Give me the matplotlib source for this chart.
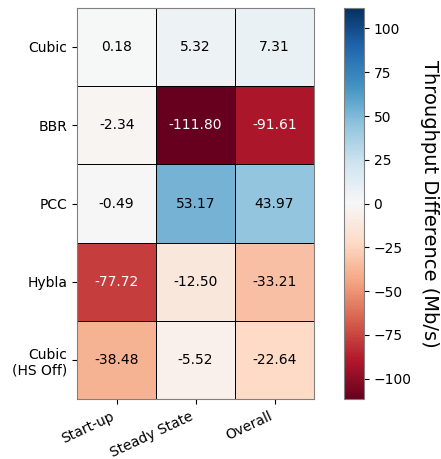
import numpy as np
import matplotlib
matplotlib.use("Agg")
import matplotlib.pyplot as plt

# rows: congestion control, columns: phase
rows = ["Cubic", "BBR", "PCC", "Hybla", "Cubic\n(HS Off)"]
cols = ["Start-up", "Steady State", "Overall"]
startup = [0.18, -2.34, -0.49, -77.72, -38.48]
steady = [5.32, -111.80, 53.17, -12.50, -5.52]
overall = [7.31, -91.61, 43.97, -33.21, -22.64]

data = np.array([startup, steady, overall]).T
lim = np.abs(data).max()

fig = plt.figure(figsize=(4.41, 4.59), dpi=100)
ax = fig.add_axes([0.175, 0.13, 0.537, 0.853])
cax = fig.add_axes([0.780, 0.13, 0.045, 0.853])

mesh = ax.pcolormesh(data, cmap="RdBu", vmin=-lim, vmax=lim,
                     edgecolors="black", linewidth=0.6)
ax.set_xlim(0, len(cols))
ax.set_ylim(len(rows), 0)
ax.set_xticks(np.arange(len(cols)) + 0.5)
ax.set_xticklabels(cols, rotation=25, ha="right", fontsize=10)
ax.set_yticks(np.arange(len(rows)) + 0.5)
ax.set_yticklabels(rows, fontsize=10)
for s in ax.spines.values():
    s.set_color("gray")

# annotate each cell
for i in range(len(rows)):
    for j in range(len(cols)):
        v = data[i, j]
        c = "white" if abs(v) > 60 else "black"
        ax.text(j + 0.5, i + 0.5, f"{v:.2f}", ha="center", va="center",
                color=c, fontsize=10)

cb = fig.colorbar(mesh, cax=cax)
cb.set_ticks([-100, -75, -50, -25, 0, 25, 50, 75, 100])
cb.ax.tick_params(labelsize=10)
cb.outline.set_edgecolor("gray")
cb.set_label("Throughput Difference (Mb/s)", rotation=270, labelpad=20, fontsize=14)

fig.savefig("out.png", dpi=100)
